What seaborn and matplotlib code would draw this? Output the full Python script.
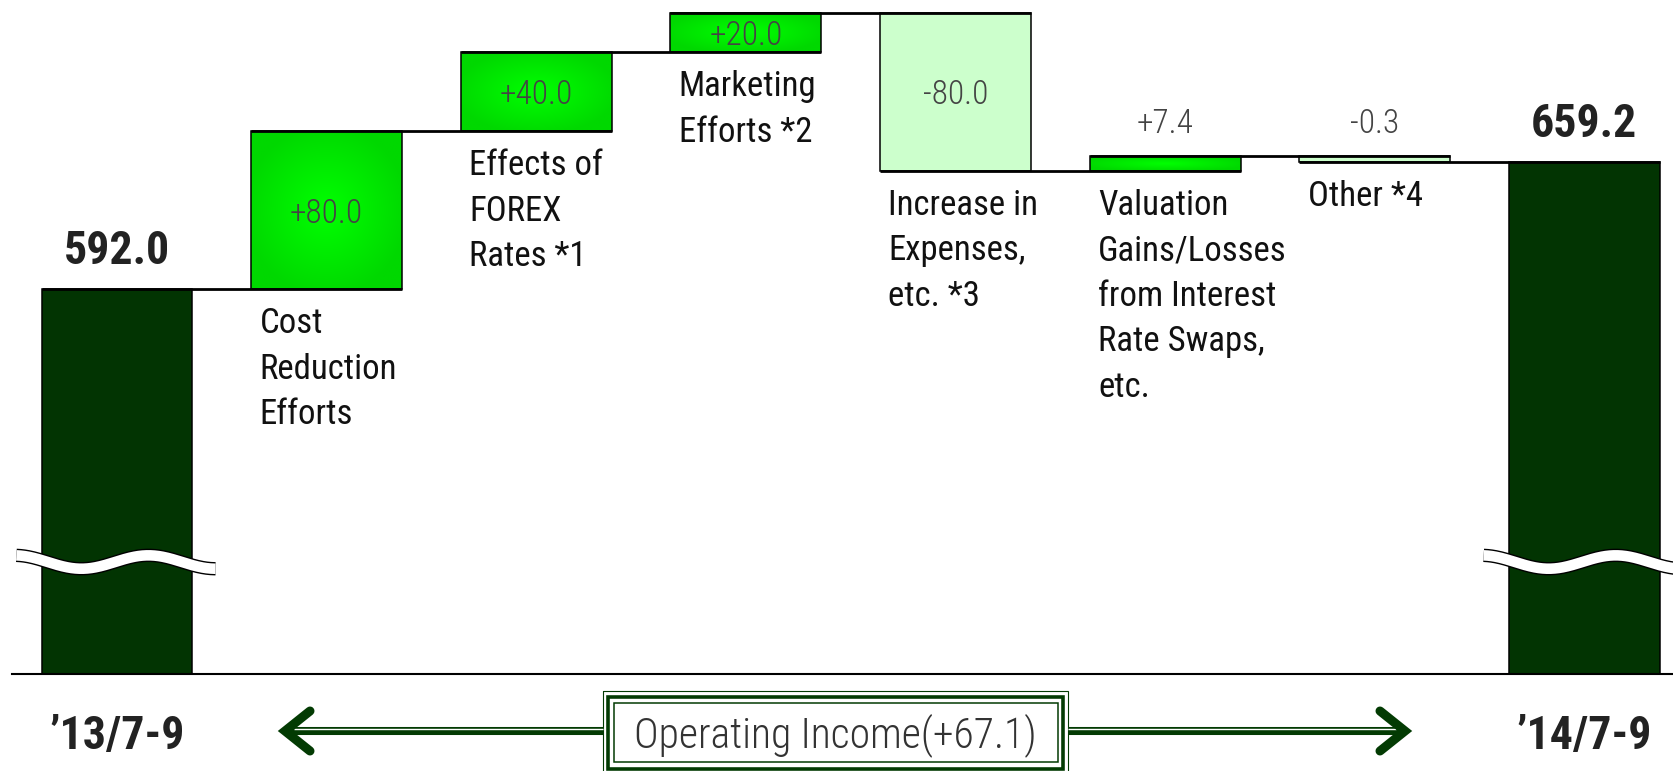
import numpy as np
import pandas as pd
import matplotlib.pyplot as plt
import matplotlib.transforms as mtransforms
from matplotlib import font_manager as fm
from matplotlib.colors import LinearSegmentedColormap
from matplotlib.patches import Rectangle
import seaborn as sns

# values
steps = ["\u201913/7-9", "Cost\nReduction\nEfforts", "Effects of\nFOREX\nRates *1",
         "Marketing\nEfforts *2", "Increase in\nExpenses,\netc. *3",
         "Valuation\nGains/Losses\nfrom Interest\nRate Swaps,\netc.",
         "Other *4", "\u201914/7-9"]
start_total = 592.0
end_total = 659.2
changes = [80.0, 40.0, 20.0, -80.0, 7.4, -0.3]
income_change = 67.1

DARK = "#023402"
PALE = "#CCFFCC"
DECO = "#033b03"
MIN_SHOWN = 3.0  # tiny steps still get a visible sliver


def pick_font():
    # the original uses a condensed face, take the first one that exists
    tries = [("Liberation Sans Narrow", "normal"), ("Roboto Condensed", "normal"),
             ("Open Sans Condensed", "normal"), ("DejaVu Sans", "condensed"),
             ("Open Sans", "condensed"), ("Noto Sans", "condensed")]
    for fam, stretch in tries:
        try:
            path = fm.findfont(fm.FontProperties(family=fam, stretch=stretch),
                               fallback_to_default=False)
        except ValueError:
            continue
        if stretch == "normal" or "ondensed" in path:
            return fam, stretch
    return "Liberation Sans", "normal"


sns.set_theme(style="white")
font_fam, font_stretch = pick_font()
plt.rcParams["font.family"] = [font_fam, "DejaVu Sans"]
plt.rcParams["font.stretch"] = font_stretch

# floating bar geometry
level = start_total
bottoms, heights = [0.0], [start_total]
for d in changes:
    shown = np.sign(d) * max(abs(d), MIN_SHOWN)
    bottoms.append(level)
    heights.append(shown)
    level += shown
bottoms.append(0.0)
heights.append(level)
tops = np.array(bottoms) + np.array(heights)

df = pd.DataFrame({"step": steps, "height": heights})

fig = plt.figure(figsize=(16.74, 7.71), dpi=100)
ax = fig.add_axes([12 / 1674, 97 / 771, 1662 / 1674, 674 / 771])
sns.barplot(data=df, x="step", y="height", order=steps, bottom=bottoms,
            width=0.72, color="#00E400", edgecolor="black", linewidth=1.1,
            errorbar=None, ax=ax, zorder=2)

# colours per bar, green ones get a soft glow
gy, gx = np.mgrid[-1:1:90j, -1:1:90j]
glow = np.clip(np.sqrt(gx ** 2 + gy ** 2) / 1.1, 0, 1)
cmap = LinearSegmentedColormap.from_list("glow", ["#00FF00", "#00D800"])
bars = ax.patches
bars[0].set_facecolor(DARK)
bars[-1].set_facecolor(DARK)
for bar, d in zip(bars[1:-1], changes):
    if d > 0:
        x0, y0 = bar.get_x(), bar.get_y()
        w, h = bar.get_width(), bar.get_height()
        ax.imshow(glow, cmap=cmap, extent=[x0, x0 + w, y0, y0 + h],
                  aspect="auto", interpolation="bilinear", zorder=1.9)
        bar.set_facecolor("none")
    else:
        bar.set_facecolor(PALE)

# connector lines
for i in range(len(steps) - 1):
    ax.plot([i - 0.36, i + 1.36], [tops[i], tops[i]], color="black", lw=2.0,
            solid_capstyle="butt", zorder=3)

# value labels
for i, d in enumerate(changes, start=1):
    lo, hi = sorted([bottoms[i], tops[i]])
    txt = f"{d:+.1f}"
    if abs(heights[i]) > 15:
        ax.text(i, (lo + hi) / 2, txt, ha="center", va="center_baseline",
                fontsize=24, fontweight="light", color="#444444", zorder=5)
    else:
        ax.annotate(txt, (i, hi), xytext=(0, 17), textcoords="offset points",
                    ha="center", va="baseline", fontsize=24, fontweight="light",
                    color="#444444")
    ax.annotate(steps[i], (i - 0.36, lo), xytext=(6, -13), textcoords="offset points",
                ha="left", va="top", fontsize=25, linespacing=1.48, color="#111111")

# totals
for i, val in [(0, start_total), (len(steps) - 1, end_total)]:
    ax.annotate(f"{val:.1f}", (i, tops[i]), xytext=(0, 18), textcoords="offset points",
                ha="center", va="baseline", fontsize=33, fontweight="bold", color="#222222")

# axis-break waves
t = np.linspace(-0.48, 0.47, 200)
for i in (0, len(steps) - 1):
    wy = 453.5 + 3.4 * np.cos(2 * np.pi * (t - 0.15) / 0.64)
    ax.plot(i + t, wy, color="black", lw=9.6, solid_capstyle="butt", zorder=6)
    ax.plot(i + t, wy, color="white", lw=7.6, solid_capstyle="butt", zorder=7)

ax.set_xlim(-0.501, 7.428)
ax.set_ylim(396.7, 738.6)
ax.set_xticks([])
ax.set_yticks([])
ax.set_xlabel("")
ax.set_ylabel("")
for s in ["top", "left", "right"]:
    ax.spines[s].set_visible(False)
ax.spines["bottom"].set_color("black")
ax.spines["bottom"].set_linewidth(1.5)

# overlay in pixel units for the bottom strip
over = fig.add_axes([0, 0, 1, 1])
over.set_xlim(0, 1674)
over.set_ylim(771, 0)
over.axis("off")

lab_tr = mtransforms.blended_transform_factory(ax.transData, over.transData)
for i in (0, len(steps) - 1):
    over.text(i, 749, steps[i], transform=lab_tr, ha="center", va="baseline",
              fontsize=33, fontweight="bold", color="#222222")

over.add_patch(Rectangle((603.5, 691), 465, 90, fill=False, ec=DECO, lw=0.8))
over.add_patch(Rectangle((608.5, 697), 455, 72, fill=False, ec=DECO, lw=2.6))
over.add_patch(Rectangle((614, 703), 444, 59, fill=False, ec=DECO, lw=1.1))
over.text(835, 747, f"Operating Income({income_change:+.1f})", ha="center",
          va="baseline", fontsize=30, fontweight="light", color="#333333")

# double-line arrows
over.plot([290, 603], [731, 731], color=DECO, lw=5.8, solid_capstyle="butt")
over.plot([294, 603], [729.3, 729.3], color="white", lw=1.0, solid_capstyle="butt")
over.plot([310, 285, 310], [711, 731, 751], color=DECO, lw=6.5,
          solid_capstyle="round", solid_joinstyle="miter")
over.plot([1068, 1400], [731, 731], color=DECO, lw=5.8, solid_capstyle="butt")
over.plot([1068, 1396], [729.3, 729.3], color="white", lw=1.0, solid_capstyle="butt")
over.plot([1380, 1405, 1380], [711, 731, 751], color=DECO, lw=6.5,
          solid_capstyle="round", solid_joinstyle="miter")

fig.savefig("out.png", dpi=100)
